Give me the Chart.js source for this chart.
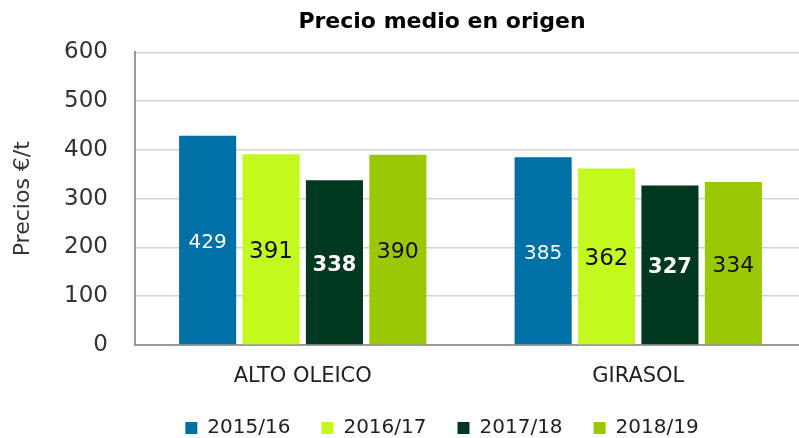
<!DOCTYPE html>
<html>
<head>
<meta charset="utf-8">
<script src="https://cdn.jsdelivr.net/npm/chart.js@4.4.0/dist/chart.umd.min.js"></script>
<style>
  body { margin: 0; overflow: hidden; background: #fff; }
  #wrap { width: 884px; height: 448px; }
</style>
</head>
<body>
<div id="wrap"><canvas id="myChart"></canvas></div>
<script>
const categories = ["ALTO OLEICO", "GIRASOL"];
const seasons = ["2015/16", "2016/17", "2017/18", "2018/19"];
const v201516 = [429, 385];
const v201617 = [391, 362];
const v201718 = [338, 327];
const v201819 = [390, 334];
const yTicks = [0, 100, 200, 300, 400, 500, 600];

const colors = ["#0070a6", "#c4f91e", "#00391f", "#9bc805"];
// label look per season: colour, weight, size
const labelStyle = [
  { color: "#ffffff", weight: "normal", size: 20 },
  { color: "#111111", weight: "normal", size: 23 },
  { color: "#ffffff", weight: "bold", size: 21 },
  { color: "#111111", weight: "normal", size: 22 },
];

const FONT = '"DejaVu Sans", sans-serif';

const barLabels = {
  id: "barLabels",
  afterDatasetsDraw(chart) {
    const ctx = chart.ctx;
    chart.data.datasets.forEach(function (ds, i) {
      const meta = chart.getDatasetMeta(i);
      const st = labelStyle[i];
      meta.data.forEach(function (bar, j) {
        ctx.save();
        ctx.fillStyle = st.color;
        ctx.font = st.weight + " " + st.size + "px " + FONT;
        ctx.textAlign = "center";
        ctx.textBaseline = "middle";
        ctx.fillText(ds.data[j], bar.x, (bar.y + bar.base) / 2 + 3);
        ctx.restore();
      });
    });
  },
};

const allValues = [v201516, v201617, v201718, v201819];

const ctx = document.getElementById("myChart");
const myChart = new Chart(ctx, {
  type: "bar",
  data: {
    labels: categories,
    datasets: seasons.map(function (s, i) {
      return {
        label: s,
        data: allValues[i],
        backgroundColor: colors[i],
        categoryPercentage: 0.756,
        barPercentage: 0.9,
      };
    }),
  },
  plugins: [barLabels],
  options: {
    responsive: true,
    maintainAspectRatio: false,
    animation: false,
    layout: { padding: { left: 0, right: 0, top: 4, bottom: 0 } },
    plugins: {
      title: {
        display: true,
        text: "Precio medio en origen",
        color: "#000",
        font: { family: FONT, size: 22, weight: "bold" },
        padding: { top: 5, bottom: 17 },
      },
      legend: {
        position: "bottom",
        labels: {
          color: "#222",
          font: { family: FONT, size: 20 },
          boxWidth: 12,
          boxHeight: 12,
          padding: 31,
          useBorderRadius: false,
        },
      },
      tooltip: { enabled: false },
    },
    scales: {
      x: {
        grid: { display: false, drawTicks: false },
        border: { color: "#9a9a9a", width: 2 },
        ticks: {
          color: "#222",
          font: { family: FONT, size: 21 },
          padding: 19,
        },
        afterFit: function (scale) {
          scale.height = 42;
        },
      },
      y: {
        min: 0,
        max: 600,
        afterBuildTicks: function (scale) {
          scale.ticks = yTicks.map(function (v) { return { value: v }; });
        },
        grid: { color: "#d3d3d3", lineWidth: 1.5, drawTicks: false },
        border: { color: "#9a9a9a", width: 2 },
        ticks: {
          color: "#333",
          font: { family: FONT, size: 23 },
          padding: 27,
        },
        title: {
          display: true,
          text: "Precios €/t",
          color: "#333",
          font: { family: FONT, size: 22 },
          padding: { top: 10, bottom: 0 },
        },
        afterFit: function (scale) {
          scale.width = 135;
        },
      },
      // empty right-hand band: the plot runs past the picture edge
      yRight: {
        position: "right",
        min: 0,
        max: 600,
        grid: { display: false, drawTicks: false },
        border: { display: false },
        ticks: { display: false },
        afterFit: function (scale) {
          scale.width = 78;
        },
      },
    },
  },
});
</script>
</body>
</html>
